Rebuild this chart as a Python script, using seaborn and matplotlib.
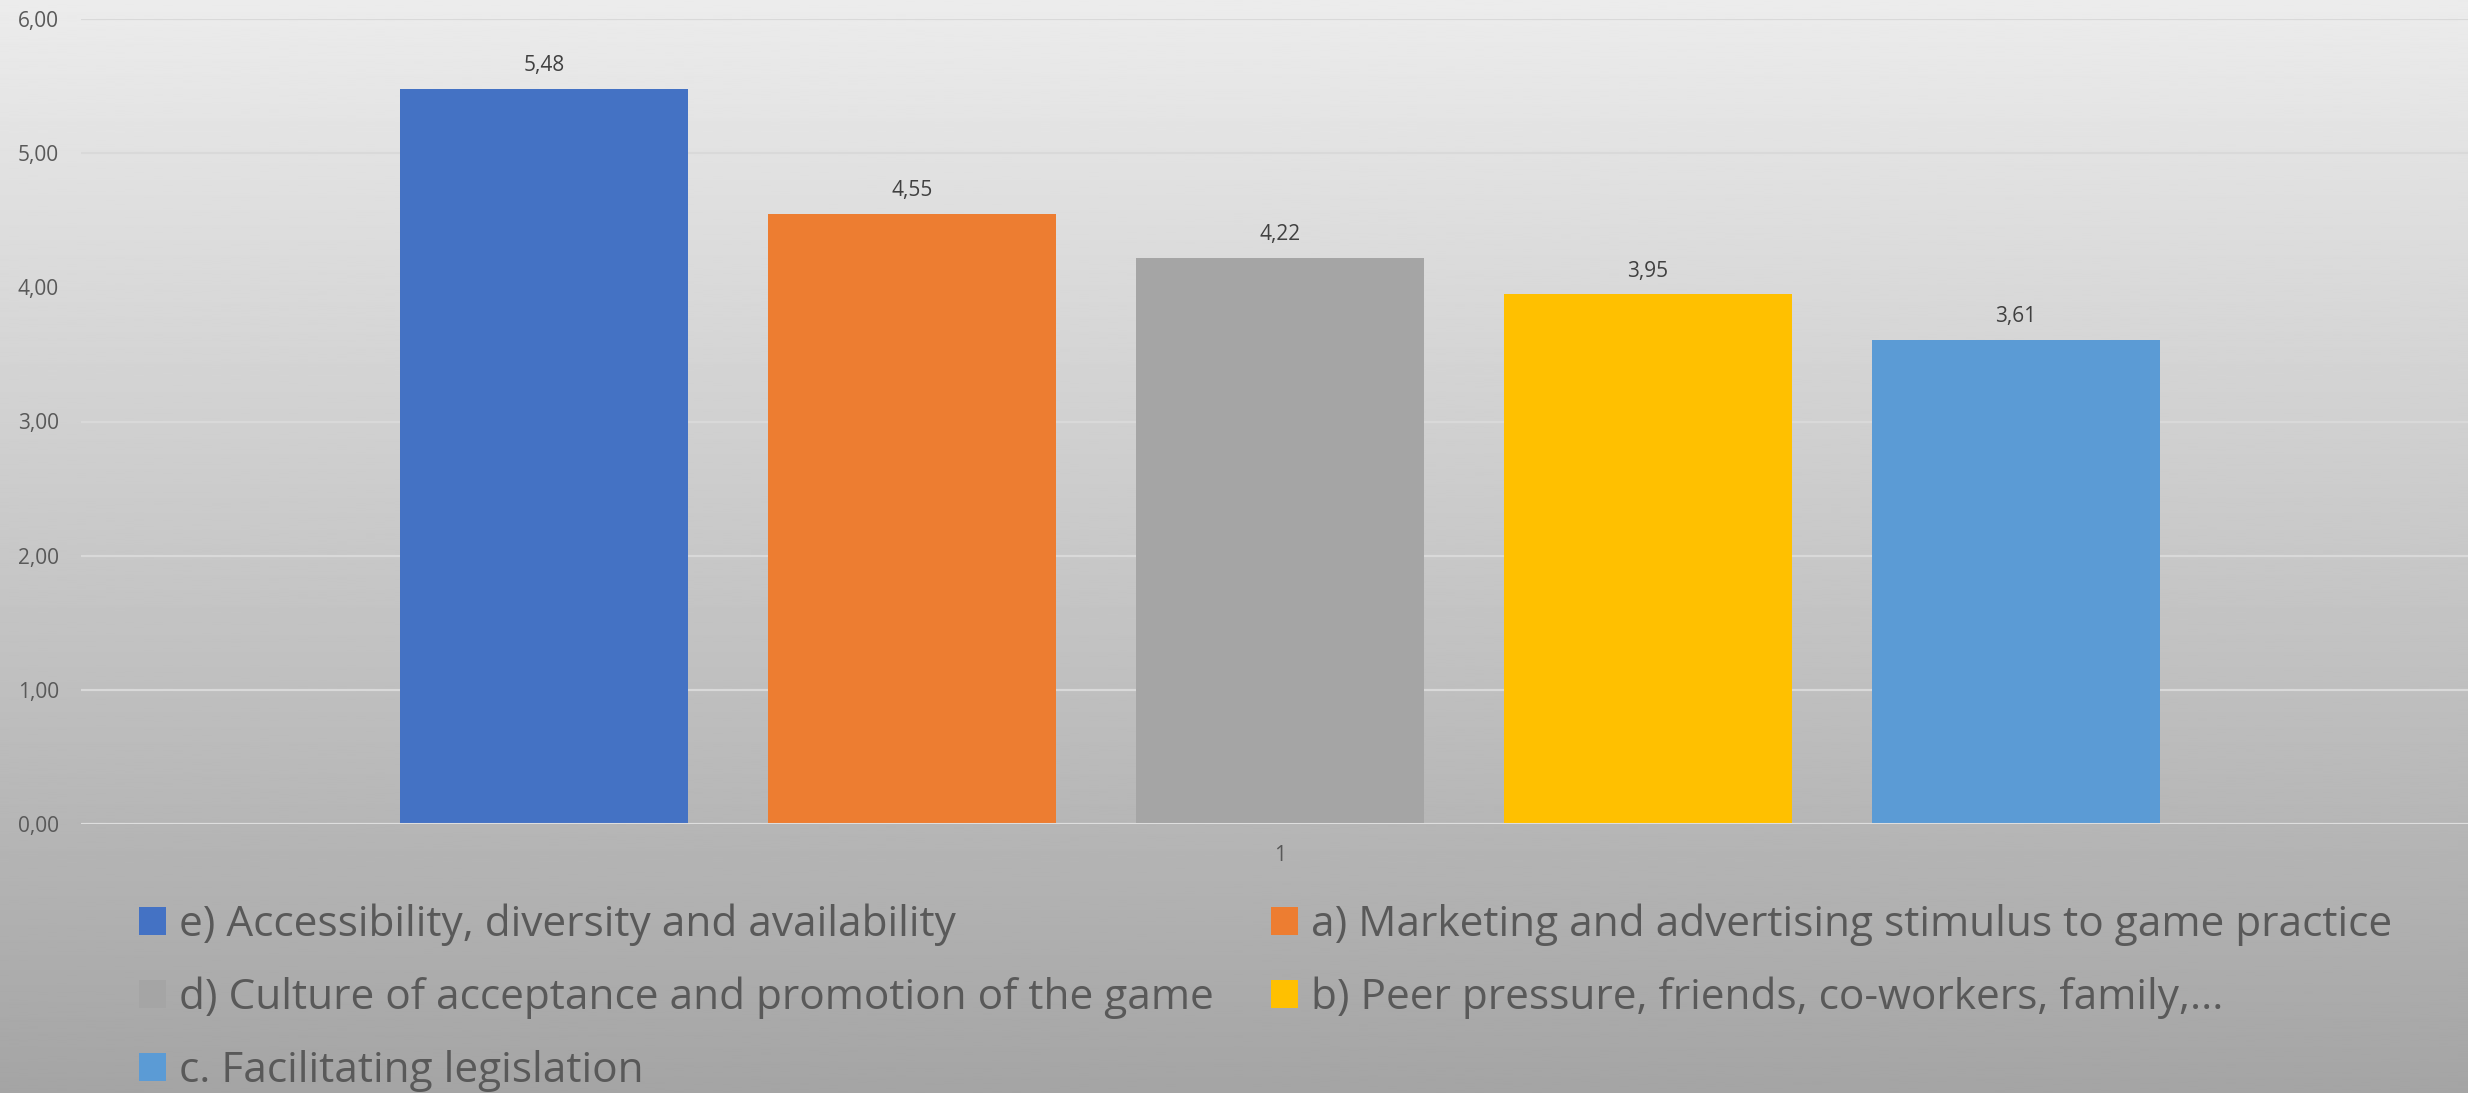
import numpy as np
import pandas as pd
import matplotlib
matplotlib.use("Agg")
import matplotlib.pyplot as plt
from matplotlib.patches import Patch
from matplotlib.ticker import FuncFormatter
import seaborn as sns

# Average scores per factor (single group "1")
categories = ["1"]
series_labels = [
    "e) Accessibility, diversity and availability",
    "a) Marketing and advertising stimulus to game practice",
    "d) Culture of acceptance and promotion of the game",
    "b) Peer pressure, friends, co-workers, family,...",
    "c. Facilitating legislation",
]
series_values = [5.48, 4.55, 4.22, 3.95, 3.61]
series_colors = ["#4472C4", "#ED7D31", "#A5A5A5", "#FFC000", "#5B9BD5"]
y_ticks = [0, 1, 2, 3, 4, 5, 6]

df = pd.DataFrame({
    "group": categories * len(series_labels),
    "factor": series_labels,
    "score": series_values,
})

sns.set_theme(style="white")
plt.rcParams["font.family"] = ["Open Sans", "DejaVu Sans"]

W, H, DPI = 2468, 1093, 100
fig = plt.figure(figsize=(W / DPI, H / DPI), dpi=DPI)

# vertical grey gradient behind everything
bg = fig.add_axes([0, 0, 1, 1], zorder=-10)
grad = np.linspace(0.925, 0.645, 512).reshape(-1, 1)
bg.imshow(grad, aspect="auto", cmap="gray", vmin=0, vmax=1,
          extent=[0, 1, 0, 1], origin="upper")
bg.set_axis_off()

left = 81 / W
bottom = 1 - 824 / H
top = 1 - 19 / H
ax = fig.add_axes([left, bottom, 1 - left, top - bottom])
ax.set_facecolor("none")

sns.barplot(data=df, x="group", y="score", hue="factor",
            hue_order=series_labels, palette=series_colors,
            width=0.8, gap=0.215, saturation=1, legend=False, ax=ax,
            linewidth=0, edgecolor="none", zorder=3)

ax.set_xlim(-0.5213, 0.5165)
ax.set_ylim(0, 6)
ax.set_yticks(y_ticks)
ax.yaxis.set_major_formatter(FuncFormatter(lambda v, _: f"{v:.2f}".replace(".", ",")))
ax.grid(axis="y", color="#d9d9d9", linewidth=1.6, zorder=0)
ax.axhline(0, color="#dedede", linewidth=2.2, zorder=4)
for s in ax.spines.values():
    s.set_visible(False)
ax.tick_params(axis="y", length=0, pad=16, labelsize=15, labelcolor="#595959")
ax.tick_params(axis="x", length=0, pad=15, labelsize=15, labelcolor="#595959")
ax.set_xlabel("")
ax.set_ylabel("")

for cont, val in zip(ax.containers, series_values):
    ax.bar_label(cont, labels=[f"{val:.2f}".replace(".", ",")], padding=9,
                 fontsize=15, color="#404040")

# legend filled row by row across two columns
handles = [Patch(facecolor=c, edgecolor="none") for c in series_colors]
order = [0, 2, 4, 1, 3]
leg = fig.legend([handles[i] for i in order], [series_labels[i] for i in order],
                 loc="upper left", bbox_to_anchor=(139 / W, 1 - 903 / H), ncol=2,
                 frameon=False, fontsize=30.5, labelcolor="#595959",
                 handlelength=0.64, handleheight=0.64, handletextpad=0.3,
                 columnspacing=1.35, labelspacing=0.73, borderaxespad=0,
                 borderpad=0)

fig.savefig("out.png", dpi=DPI)
